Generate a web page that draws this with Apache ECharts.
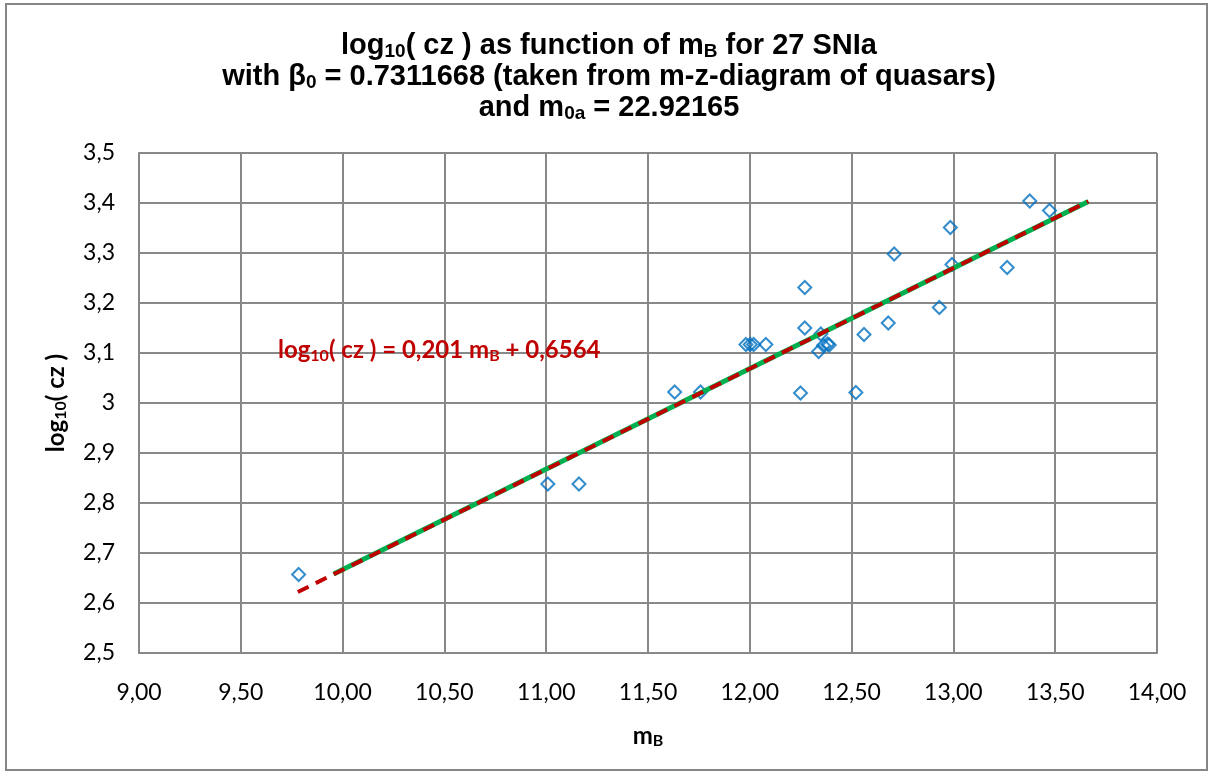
<!DOCTYPE html>
<html>
<head>
<meta charset="utf-8">
<title>log10(cz) vs mB</title>
<script src="https://cdn.jsdelivr.net/npm/echarts@6/dist/echarts.min.js"></script>
<style>
    html, body { margin: 0; padding: 0; background: #fff; }
    #chart { width: 1218px; height: 778px; }
</style>
</head>
<body>
<div id="chart"></div>
<script>
// 27 SNIa: apparent magnitude m_B and log10(cz)
const mB = [9.784, 11.008, 11.161, 11.631, 11.758, 11.981, 12.002, 12.019, 12.079, 12.249,
    12.270, 12.270, 12.338, 12.349, 12.362, 12.382, 12.390, 12.521, 12.561, 12.680,
    12.709, 12.931, 12.985, 12.993, 13.264, 13.375, 13.472];
const logCz = [2.657, 2.838, 2.838, 3.022, 3.022, 3.117, 3.117, 3.117, 3.117, 3.020,
    3.231, 3.150, 3.103, 3.138, 3.115, 3.118, 3.116, 3.021, 3.137, 3.160,
    3.298, 3.191, 3.351, 3.277, 3.271, 3.404, 3.385];

// linear trendline (red dashed) and model line (green)
const trendX = [9.78, 13.663];
const trendY = [2.622, 3.403];
const modelX = [9.956, 13.663];
const modelY = [2.658, 3.403];

// axis tick labels
const xTickLabels = ['9,00', '9,50', '10,00', '10,50', '11,00', '11,50', '12,00', '12,50', '13,00', '13,50', '14,00'];
const yTickLabels = ['2,5', '2,6', '2,7', '2,8', '2,9', '3', '3,1', '3,2', '3,3', '3,4', '3,5'];

const GRID_COLOR = '#888888';
const TEXT_FONT = 'Lato, "Open Sans", sans-serif';
const TITLE_FONT = '"Liberation Sans", Arial, sans-serif';

const pairs = (xs, ys) => xs.map((x, i) => [x, ys[i]]);

const titleRich = {
    t: { fontFamily: TITLE_FONT, fontWeight: 'bold', fontSize: 29, lineHeight: 31, color: '#000', align: 'center' },
    s: { fontFamily: TITLE_FONT, fontWeight: 'bold', fontSize: 19, lineHeight: 9, verticalAlign: 'bottom', color: '#000', align: 'center' },
};

const chart = echarts.init(document.getElementById('chart'), null, { renderer: 'canvas' });
chart.setOption({
    animation: false,
    backgroundColor: '#fff',
    title: {
        text: '{t|log}{s|10}{t|( cz ) as function of m}{s|B}{t| for 27 SNIa}\n' +
              '{t|with β}{s|0}{t| = 0.7311668 (taken from m-z-diagram of quasars)}\n' +
              '{t|and m}{s|0a}{t| = 22.92165}',
        left: 609,
        textAlign: 'center',
        top: 30,
        padding: 0,
        textStyle: { rich: titleRich },
    },
    graphic: [
        {
            type: 'rect',
            shape: { x: 6, y: 4, width: 1201, height: 766 },
            style: { fill: 'none', stroke: '#868686', lineWidth: 2 },
            silent: true,
        },
        {
            type: 'text',
            left: 278,
            top: 338,
            style: {
                text: '{e|log}{s|10}{e|( cz ) = 0,201 m}{s|B}{e| + 0,6564}',
                rich: {
                    e: { fontFamily: TEXT_FONT, fontWeight: 'bold', fontSize: 24, lineHeight: 28, fill: '#C00000' },
                    s: { fontFamily: TEXT_FONT, fontWeight: 'bold', fontSize: 16, lineHeight: 10, verticalAlign: 'bottom', fill: '#C00000' },
                },
            },
            z: 100,
        },
    ],
    grid: { left: 139, right: 61, top: 153, bottom: 125 },
    xAxis: {
        type: 'value',
        min: 9,
        max: 14,
        interval: 0.5,
        name: '{n|m}{s|B}',
        nameLocation: 'middle',
        nameGap: 70,
        nameTextStyle: {
            rich: {
                n: { fontFamily: TEXT_FONT, fontWeight: 'bold', fontSize: 24, lineHeight: 26, color: '#000' },
                s: { fontFamily: TEXT_FONT, fontWeight: 'bold', fontSize: 16, lineHeight: 10, verticalAlign: 'bottom', color: '#000' },
            },
        },
        axisLine: { lineStyle: { color: GRID_COLOR, width: 2 } },
        axisTick: { show: false },
        splitLine: { lineStyle: { color: GRID_COLOR, width: 2 } },
        axisLabel: {
            color: '#000',
            fontFamily: TEXT_FONT,
            fontSize: 23,
            margin: 28,
            formatter: v => xTickLabels[Math.round((v - 9) / 0.5)],
        },
    },
    yAxis: {
        type: 'value',
        min: 2.5,
        max: 3.5,
        interval: 0.1,
        name: '{n|log}{s|10}{n|( cz )}',
        nameLocation: 'middle',
        nameGap: 70,
        nameTextStyle: {
            rich: {
                n: { fontFamily: TEXT_FONT, fontWeight: 'bold', fontSize: 24, lineHeight: 26, color: '#000' },
                s: { fontFamily: TEXT_FONT, fontWeight: 'bold', fontSize: 16, lineHeight: 10, verticalAlign: 'bottom', color: '#000' },
            },
        },
        axisLine: { show: true, lineStyle: { color: GRID_COLOR, width: 2 } },
        axisTick: { show: false },
        splitLine: { lineStyle: { color: GRID_COLOR, width: 2 } },
        axisLabel: {
            color: '#000',
            fontFamily: TEXT_FONT,
            fontSize: 23,
            margin: 24,
            formatter: v => yTickLabels[Math.round((v - 2.5) / 0.1)],
        },
    },
    series: [
        {
            name: 'SNIa',
            type: 'scatter',
            data: pairs(mB, logCz),
            symbol: 'diamond',
            symbolSize: 13,
            itemStyle: { color: 'rgba(255,255,255,0)', borderColor: '#0070C0', borderWidth: 2 },
            z: 3,
        },
        {
            name: 'model',
            type: 'line',
            data: pairs(modelX, modelY),
            showSymbol: false,
            lineStyle: { color: '#00B050', width: 5 },
            z: 4,
        },
        {
            name: 'trend',
            type: 'line',
            data: pairs(trendX, trendY),
            showSymbol: false,
            lineStyle: { color: '#C00000', width: 4, type: [12, 8] },
            z: 5,
        },
    ],
});
</script>
</body>
</html>
